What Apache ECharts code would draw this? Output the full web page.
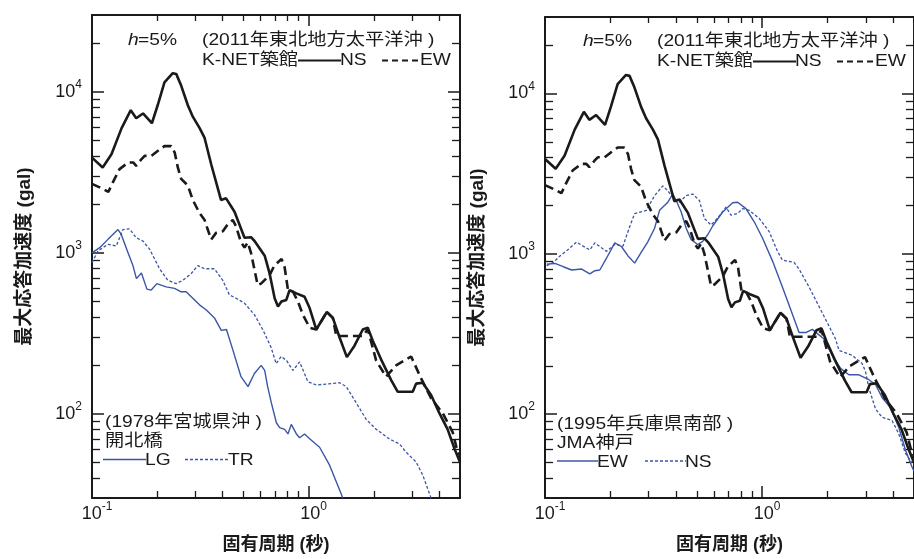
<!DOCTYPE html>
<html><head><meta charset="utf-8">
<script src="https://cdn.jsdelivr.net/npm/echarts@6/dist/echarts.min.js"></script>
<style>html,body{margin:0;padding:0;background:#fff}#c{width:914px;height:559px}</style>
</head><body><div id="c"></div>
<script>
// ---- data: [period (s), max response acceleration (gal)] ----
const knetNS = [[0.100,3900],[0.112,3390],[0.123,4090],[0.137,5950],[0.151,7690],[0.160,6850],[0.172,7340],[0.189,6380],[0.201,8250],[0.216,11460],[0.236,13060],[0.245,12880],[0.258,10930],[0.277,8250],[0.292,7010],[0.314,5950],[0.331,5170],[0.355,3550],[0.394,2130],[0.416,2180],[0.455,1800],[0.506,1240],[0.542,1250],[0.564,1180],[0.627,960],[0.661,742],[0.697,522],[0.722,464],[0.749,498],[0.789,510],[0.817,587],[0.878,560],[0.958,534],[1.011,454],[1.085,334],[1.214,429],[1.294,394],[1.39,298],[1.502,225],[1.629,265],[1.779,334],[1.876,343],[1.978,284],[2.16,218],[2.405,162],[2.58,137],[3.025,137],[3.136,154],[3.363,156],[3.676,131],[4.015,101],[4.385,80],[4.708,61],[5.0,50]];
const knetEW = [[0.100,2680],[0.112,2500],[0.119,2390],[0.125,2750],[0.134,3310],[0.147,3640],[0.155,3640],[0.160,3470],[0.169,3810],[0.175,4000],[0.188,4000],[0.201,4290],[0.216,4600],[0.232,4600],[0.241,4190],[0.249,3390],[0.258,2880],[0.277,2620],[0.292,2130],[0.314,1760],[0.331,1600],[0.342,1400],[0.355,1210],[0.374,1330],[0.402,1360],[0.423,1500],[0.447,1600],[0.462,1460],[0.488,1160],[0.506,1080],[0.524,1160],[0.542,1000],[0.582,630],[0.603,644],[0.659,724],[0.695,833],[0.75,915],[0.775,814],[0.803,587],[0.847,573],[0.893,498],[0.941,413],[1.011,343],[1.085,334],[1.214,429],[1.294,394],[1.342,304],[1.492,304],[1.78,304],[1.876,335],[2.051,214],[2.28,170],[2.536,200],[2.974,227],[3.306,166],[3.676,125],[4.158,101],[4.624,77],[4.875,58],[5.0,55]];
const kaihokuLG = [[0.100,1000],[0.1085,1077],[0.1185,1212],[0.1318,1395],[0.1365,1300],[0.1465,1004],[0.1545,833],[0.1604,691],[0.1691,750],[0.1793,595],[0.1877,587],[0.1993,644],[0.220,614],[0.2405,601],[0.258,573],[0.272,573],[0.3135,475],[0.3363,443],[0.3676,394],[0.3952,330],[0.4176,334],[0.448,247],[0.4875,170],[0.5252,147.5],[0.562,178],[0.604,200],[0.627,186],[0.647,147.5],[0.673,117],[0.710,88],[0.735,82],[0.775,80],[0.803,75],[0.832,86],[0.878,75],[0.909,71],[0.958,75],[1.011,70],[1.124,62],[1.25,48],[1.439,30]];
const kaihokuTR = [[0.100,869],[0.1066,1028],[0.1185,1130],[0.1294,1103],[0.139,1395],[0.1492,1407],[0.160,1240],[0.1718,1184],[0.1845,1053],[0.2051,796],[0.2239,675],[0.2446,644],[0.2627,675],[0.2868,742],[0.308,833],[0.3306,796],[0.3676,796],[0.4015,675],[0.4311,547],[0.4624,522],[0.5055,487],[0.562,413],[0.6138,334],[0.6706,259],[0.7084,205],[0.747,227],[0.7918,214],[0.8466,186],[0.909,210],[0.9927,158],[1.085,151],[1.39,156],[1.492,147.5],[1.659,117],[1.845,92.3],[2.051,80.2],[2.362,69.7],[2.627,65],[2.82,57.8],[3.136,50.2],[3.363,41.7],[3.676,30]];
const kobeEW = [[0.1018,863],[0.1111,871],[0.1213,831],[0.1326,793],[0.1474,804],[0.1609,750],[0.1696,785],[0.1788,793],[0.1919,939],[0.2095,1170],[0.2248,1111],[0.2411,970],[0.2587,875],[0.2772,1021],[0.2969,1184],[0.3196,1445],[0.3369,1867],[0.3678,2099],[0.3876,2361],[0.4018,2150],[0.4237,1824],[0.4467,1445],[0.471,1226],[0.5048,1143],[0.5322,1197],[0.5612,1315],[0.5916,1492],[0.6576,1824],[0.731,2081],[0.7706,2099],[0.842,1913],[0.919,1585],[1.003,1256],[1.115,904],[1.239,622],[1.354,448],[1.478,323],[1.587,323],[1.701,338],[1.925,294],[2.102,233],[2.296,193],[2.506,176],[2.786,176],[3.096,164],[3.324,153],[3.563,127],[3.894,110],[4.25,83],[4.563,60],[4.891,47],[5.0,44]];
const kobeNS = [[0.1018,843],[0.1092,884],[0.1172,970],[0.1279,1065],[0.1398,1184],[0.1499,1116],[0.1609,1058],[0.1696,1170],[0.182,1091],[0.1919,1036],[0.2095,1143],[0.2287,1119],[0.2454,1477],[0.2587,1783],[0.2928,1867],[0.3196,2306],[0.3489,2654],[0.3678,2474],[0.3813,2306],[0.4162,2099],[0.4467,2306],[0.479,2361],[0.514,2150],[0.542,1662],[0.5817,1513],[0.6237,1670],[0.6816,1956],[0.7185,1741],[0.7706,1783],[0.8123,1913],[0.8718,1867],[0.969,1662],[1.077,1377],[1.175,1040],[1.239,913],[1.402,884],[1.478,804],[1.643,622],[1.826,470],[2.029,355],[2.178,294],[2.256,250],[2.596,233],[2.885,207],[2.991,184],[3.096,146],[3.324,108],[3.563,95.6],[3.96,91.3],[4.25,75.7],[4.563,57.2],[4.891,49.7]];

const xRange = [0.1, 5];
const yRange = [30, 30000];
const xMajorTicks = [0.1, 1];
const xMinorTicks = [0.2,0.3,0.4,0.5,0.6,0.7,0.8,0.9,2,3,4];
const yMajorTicks = [100, 1000, 10000];
const yMinorTicks = [40,50,60,70,80,90,200,300,400,500,600,700,800,900,2000,3000,4000,5000,6000,7000,8000,9000,20000];

const xTitle = '固有周期 (秒)';
const yTitle = '最大応答加速度 (gal)';

// ---- styles ----
const FONT = "'Liberation Sans', 'Noto Sans CJK JP', sans-serif";
const INK = '#1a1a1a';
const BLUE = '#3a56a6';

const grids = [
  {left: 92, top: 15, width: 368, height: 492},
  {left: 545, top: 17, width: 370, height: 491}
];

const expFmt = v => '{b|10}{s|' + Math.round(Math.log10(v)) + '}';
const richX = {
  b: {fontSize: 18, fontFamily: FONT, color: INK, lineHeight: 26, padding: [0,0,0,10]},
  s: {fontSize: 12, fontFamily: FONT, color: INK, verticalAlign: 'top', lineHeight: 12}
};
const richY = {
  b: {fontSize: 18, fontFamily: FONT, color: INK, lineHeight: 26},
  s: {fontSize: 12, fontFamily: FONT, color: INK, verticalAlign: 'top', lineHeight: 12}
};

const xAxis = [], yAxis = [];
grids.forEach((g, gi) => {
  const base = {type: 'log', logBase: 10, gridIndex: gi, min: xRange[0], max: xRange[1], splitLine: {show: false}};
  xAxis.push(Object.assign({}, base, {
    position: 'bottom',
    axisLine: {show: true, lineStyle: {color: INK, width: 2}},
    axisTick: {show: true, inside: true, length: 12, customValues: xMajorTicks, lineStyle: {color: INK, width: 1.5}},
    axisLabel: {show: true, customValues: xMajorTicks, formatter: expFmt, rich: richX, margin: 3},
    name: xTitle, nameLocation: 'middle', nameGap: 38,
    nameTextStyle: {fontFamily: FONT, fontSize: 18, fontWeight: 'bold', color: INK}
  }));
  xAxis.push(Object.assign({}, base, {
    position: 'bottom', axisLine: {show: false},
    axisTick: {show: true, inside: true, length: 7, customValues: xMinorTicks, lineStyle: {color: INK, width: 1.3}},
    axisLabel: {show: false}
  }));
  xAxis.push(Object.assign({}, base, {
    position: 'top',
    axisLine: {show: true, lineStyle: {color: INK, width: 2}},
    axisTick: {show: true, inside: true, length: 11, customValues: xMajorTicks, lineStyle: {color: INK, width: 1.5}},
    axisLabel: {show: false}
  }));
  xAxis.push(Object.assign({}, base, {
    position: 'top', axisLine: {show: false},
    axisTick: {show: true, inside: true, length: 6, customValues: xMinorTicks, lineStyle: {color: INK, width: 1.3}},
    axisLabel: {show: false}
  }));

  const ybase = {type: 'log', logBase: 10, gridIndex: gi, min: yRange[0], max: yRange[1], splitLine: {show: false}};
  yAxis.push(Object.assign({}, ybase, {
    position: 'left',
    axisLine: {show: true, lineStyle: {color: INK, width: 2}},
    axisTick: {show: true, inside: true, length: 12, customValues: yMajorTicks, lineStyle: {color: INK, width: 1.5}},
    axisLabel: {show: true, customValues: yMajorTicks, formatter: expFmt, rich: richY, margin: 10},
    name: yTitle, nameLocation: 'middle', nameGap: 58,
    nameTextStyle: {fontFamily: FONT, fontSize: 19, fontWeight: 'bold', color: INK}
  }));
  yAxis.push(Object.assign({}, ybase, {
    position: 'left', axisLine: {show: false},
    axisTick: {show: true, inside: true, length: 8, customValues: yMinorTicks, lineStyle: {color: INK, width: 1.3}},
    axisLabel: {show: false}
  }));
  yAxis.push(Object.assign({}, ybase, {
    position: 'right',
    axisLine: {show: true, lineStyle: {color: INK, width: 2}},
    axisTick: {show: true, inside: true, length: 12, customValues: yMajorTicks, lineStyle: {color: INK, width: 1.5}},
    axisLabel: {show: false}
  }));
  yAxis.push(Object.assign({}, ybase, {
    position: 'right', axisLine: {show: false},
    axisTick: {show: true, inside: true, length: 8, customValues: yMinorTicks, lineStyle: {color: INK, width: 1.3}},
    axisLabel: {show: false}
  }));
});

function line(gi, data, color, width, type, z) {
  return {type: 'line', xAxisIndex: gi * 4, yAxisIndex: gi * 4, data: data,
    symbol: 'none', showSymbol: false, clip: true, z: z,
    lineStyle: {color: color, width: width, type: type}};
}
const series = [
  line(0, kaihokuTR, BLUE, 1.3, [3, 2], 2),
  line(0, kaihokuLG, BLUE, 1.4, 'solid', 2),
  line(0, knetEW, INK, 2.6, [9, 5], 3),
  line(0, knetNS, INK, 2.6, 'solid', 3),
  line(1, kobeNS, BLUE, 1.3, [3, 2], 2),
  line(1, kobeEW, BLUE, 1.4, 'solid', 2),
  line(1, knetEW, INK, 2.6, [9, 5], 3),
  line(1, knetNS, INK, 2.6, 'solid', 3)
];

// ---- annotations (text + legend keys) ----
const SX = 1.13;
function txt(x, y, s, extra) {
  return {type: 'text', x: x, y: y, z: 10, scaleX: SX, scaleY: 1,
    style: Object.assign({text: s, font: '17px ' + FONT, fill: INK, align: 'left', verticalAlign: 'middle',
      textAlign: 'left', textVerticalAlign: 'middle'}, extra || {})};
}
function seg(x1, x2, y, color, w, dash) {
  return {type: 'line', z: 10, shape: {x1: x1, y1: y, x2: x2, y2: y},
    style: {stroke: color, lineWidth: w, lineDash: dash || null}};
}
const graphic = [];
[[0, 0], [455, 1]].forEach(([dx, dy]) => {
  graphic.push(txt(128 + dx, 40 + dy, 'h', {font: 'italic 17px ' + FONT}));
  graphic.push(txt(138 + dx, 40 + dy, '=5%'));
  graphic.push(txt(202 + dx, 40 + dy, '(2011年東北地方太平洋沖 )'));
  graphic.push(txt(202 + dx, 60 + dy, 'K-NET築館'));
  graphic.push(seg(298 + dx, 341 + dx, 60.5 + dy, INK, 2));
  graphic.push(txt(340 + dx, 60 + dy, 'NS'));
  graphic.push(seg(382 + dx, 422 + dx, 60.5 + dy, INK, 2, [6, 4]));
  graphic.push(txt(420 + dx, 60 + dy, 'EW'));
});
graphic.push(txt(105, 422, '(1978年宮城県沖 )'));
graphic.push(txt(105, 441, '開北橋'));
graphic.push(seg(103, 146, 459.5, BLUE, 1.4));
graphic.push(txt(145, 460, 'LG'));
graphic.push(seg(185, 229, 459.5, BLUE, 1.3, [3, 2]));
graphic.push(txt(228, 460, 'TR'));
graphic.push(txt(557, 424, '(1995年兵庫県南部 )'));
graphic.push(txt(557, 443, 'JMA神戸'));
graphic.push(seg(557, 598, 461, BLUE, 1.4));
graphic.push(txt(597, 462, 'EW'));
graphic.push(seg(645, 686, 461, BLUE, 1.3, [3, 2]));
graphic.push(txt(685, 462, 'NS'));

const chart = echarts.init(document.getElementById('c'), null, {renderer: 'canvas'});
chart.setOption({
  animation: false,
  backgroundColor: '#fff',
  grid: grids,
  xAxis: xAxis,
  yAxis: yAxis,
  series: series,
  graphic: graphic
});
</script>
</body></html>
